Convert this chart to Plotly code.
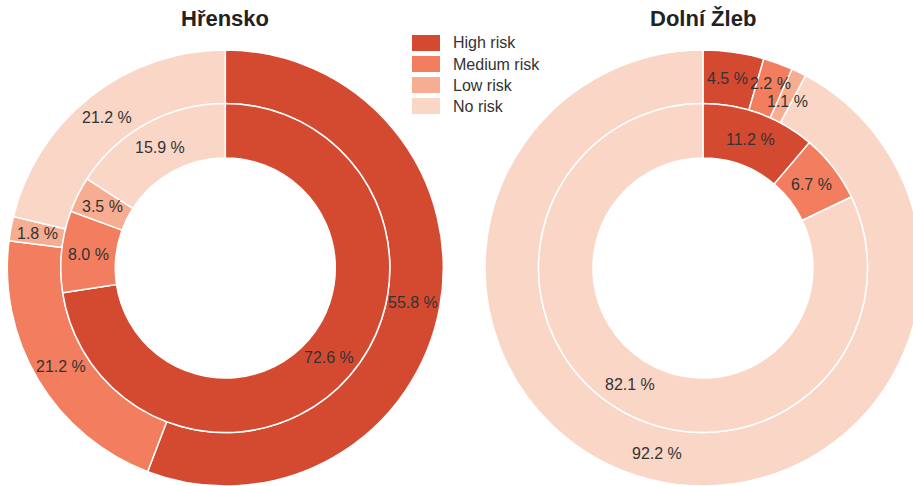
import math
import plotly.graph_objects as go

# ---- data ----
categories = ["High risk", "Medium risk", "Low risk", "No risk"]
colors = ["#d44a31", "#f27e5f", "#f7ad91", "#f9d6c6"]

hrensko_outer = [55.8, 21.2, 1.8, 21.2]
hrensko_inner = [72.6, 8.0, 3.5, 15.9]
zleb_outer = [4.5, 2.2, 1.1, 92.2]
zleb_inner = [11.2, 6.7, 0.0, 82.1]

titles = ["Hřensko", "Dolní Žleb"]

# ---- layout geometry (pixels) ----
W, H = 921, 486
R_OUT, R_MID, R_HOLE = 218, 164.5, 110
centers = [(225.3, 268.0), (703.0, 268.0)]
LABEL_SIZE = 16
FONT = "Liberation Sans, Arial, sans-serif"


def dom(cx, cy, r):
    return dict(
        x=[max(0, (cx - r) / W), min(1, (cx + r) / W)],
        y=[max(0, (H - cy - r) / H), min(1, (H - cy + r) / H)],
    )


def fmt(v):
    return f"{v:.1f} %"


def text_width(s):
    w = 0
    for ch in s:
        if ch.isdigit():
            w += 0.556
        elif ch in ". ":
            w += 0.278
        elif ch == "%":
            w += 0.889
        else:
            w += 0.556
    return w * LABEL_SIZE


fig = go.Figure()
series = [(hrensko_outer, hrensko_inner), (zleb_outer, zleb_inner)]
labels = []  # [text, x, y, w, h]
for (outer, inner), (cx, cy) in zip(series, centers):
    for vals, r0, r1 in ((outer, R_MID, R_OUT), (inner, R_HOLE, R_MID)):
        fig.add_trace(go.Pie(
            labels=categories, values=vals,
            textinfo="none", hoverinfo="label+percent",
            sort=False, direction="clockwise", rotation=0,
            hole=r0 / r1, domain=dom(cx, cy, r1),
            marker=dict(colors=colors, line=dict(color="white", width=1.5)),
            showlegend=False,
        ))
        total = sum(vals)
        cum = 0.0
        rm = (r0 + r1) / 2
        for v in vals:
            if v > 0:
                th = 2 * math.pi * (cum + v / 2) / total
                s = fmt(v)
                labels.append([s, cx + rm * math.sin(th), cy - rm * math.cos(th),
                               text_width(s) + 2, LABEL_SIZE * 1.1])
            cum += v

# simple collision avoidance between value labels
for _ in range(20):
    moved = False
    for i in range(len(labels)):
        for j in range(i + 1, len(labels)):
            a, b = labels[i], labels[j]
            dx, dy = b[1] - a[1], b[2] - a[2]
            ox = (a[3] + b[3]) / 2 - abs(dx)
            oy = (a[4] + b[4]) / 2 - abs(dy)
            if ox > 0 and oy > 0:
                moved = True
                if ox < oy:
                    sgn = 1 if dx >= 0 else -1
                    a[1] -= sgn * ox / 2
                    b[1] += sgn * ox / 2
                else:
                    sgn = 1 if dy >= 0 else -1
                    a[2] -= sgn * oy / 2
                    b[2] += sgn * oy / 2
    if not moved:
        break

for s, x, y, w, h in labels:
    fig.add_annotation(
        text=s, x=x / W, y=1 - y / H, xref="paper", yref="paper",
        xanchor="center", yanchor="middle", showarrow=False,
        font=dict(size=LABEL_SIZE, color="#333333", family=FONT),
    )

for t, (cx, cy) in zip(titles, centers):
    fig.add_annotation(
        text=f"<b>{t}</b>", x=cx / W, y=1 - 19 / H, xref="paper", yref="paper",
        xanchor="center", yanchor="middle", showarrow=False,
        font=dict(size=22, color="#222222", family=FONT),
    )

# legend (drawn as swatches + text)
LEG_X, LEG_Y, LEG_STEP = 412, 35, 21
for i, (cat, col) in enumerate(zip(categories, colors)):
    y0 = LEG_Y + i * LEG_STEP
    fig.add_shape(
        type="rect", xref="paper", yref="paper",
        x0=LEG_X / W, x1=(LEG_X + 28) / W,
        y0=1 - (y0 + 16) / H, y1=1 - y0 / H,
        fillcolor=col, line=dict(width=0),
    )
    fig.add_annotation(
        text=cat, x=(LEG_X + 39) / W, y=1 - (y0 + 8) / H, xref="paper", yref="paper",
        xanchor="left", yanchor="middle", showarrow=False,
        font=dict(size=16, color="#333333", family=FONT),
    )

fig.update_layout(
    width=W, height=H,
    margin=dict(l=0, r=0, t=0, b=0),
    paper_bgcolor="white", plot_bgcolor="white",
    font=dict(family=FONT, color="#333333"),
    showlegend=False,
)

fig.write_html(
    "out.html",
    config={"displayModeBar": False},
    post_script="document.body.style.margin='0';document.body.style.overflow='hidden';",
)
